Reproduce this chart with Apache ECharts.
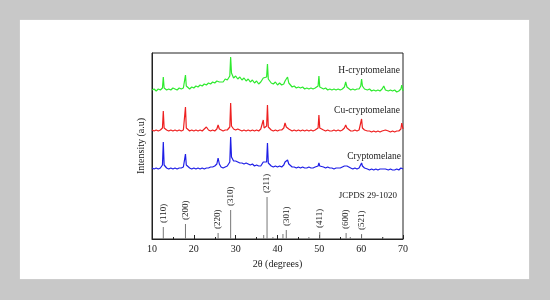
<!DOCTYPE html>
<html>
<head>
<meta charset="utf-8">
<script src="https://cdn.jsdelivr.net/npm/echarts@6/dist/echarts.min.js"></script>
<style>
  html, body { margin: 0; padding: 0; background: #c8c8c8; }
  #wrap { position: relative; width: 550px; height: 300px; background: #c8c8c8; }
  #panel { position: absolute; left: 20px; top: 20px; width: 509px; height: 259px; background: #fff; box-shadow: 0 0 1px #e4e4e4; }
  #chart { position: absolute; left: 0; top: 0; width: 550px; height: 300px; }
</style>
</head>
<body>
<div id="wrap">
  <div id="panel"></div>
  <div id="chart"></div>
</div>
<script>
// 2θ positions shared by the three measured patterns
const twoTheta = [
  10, 10.5, 11, 11.5, 12, 12.5, 12.7, 12.9, 13.5, 14,
  14.5, 15, 15.5, 16, 16.5, 17, 17.5, 17.8, 18.0, 18.2,
  18.5, 19, 19.5, 20, 20.5, 21, 21.5, 22, 22.5, 23,
  23.5, 24, 24.5, 25, 25.5, 25.8, 26.1, 26.5, 27, 27.5,
  28, 28.6, 28.8, 29.0, 29.5, 30, 30.5, 31, 31.5, 32,
  32.5, 33, 33.5, 34, 34.5, 35, 35.5, 36, 36.4, 36.6,
  36.8, 37.4, 37.6, 37.8, 38.5, 39, 39.5, 40, 40.5, 41,
  41.5, 41.8, 42.1, 42.4, 42.7, 43, 43.5, 44, 44.5, 45,
  45.5, 46, 46.5, 47, 47.5, 48, 48.5, 49, 49.7, 49.9,
  50.1, 51, 51.5, 52, 52.5, 53, 53.5, 54, 54.5, 55,
  55.5, 56, 56.3, 56.6, 57, 57.5, 58, 58.5, 59, 59.5,
  59.9, 60.1, 60.3, 60.8, 61.5, 62, 62.5, 63, 63.5, 64,
  64.5, 65, 65.4, 65.8, 66.5, 67, 67.5, 68, 68.5, 69,
  69.5, 69.7, 70
]

// intensities (arbitrary units, curves already offset)
const hCryptomelane = [
  149, 150, 148, 150, 149, 151, 162, 151, 149, 150,
  149, 151, 150, 149, 151, 150, 151, 152, 164, 153,
  151, 150, 152, 151, 153, 152, 154, 153, 155, 154,
  156, 155, 157, 156, 158, 159, 157, 159, 157, 160,
  159, 163, 182, 166, 161, 163, 160, 162, 159, 161,
  158, 160, 157, 159, 156, 158, 155, 157, 158, 161,
  159, 162, 175, 160, 156, 155, 157, 154, 156, 154,
  155, 158, 157, 162, 156, 154, 152, 153, 151, 152,
  151, 152, 150, 151, 150, 151, 150, 151, 153, 163,
  152, 150, 151, 149, 150, 149, 150, 149, 150, 149,
  150, 152, 157, 152, 150, 149, 150, 149, 150, 150,
  153, 160, 153, 150, 149, 150, 148, 149, 148, 149,
  148, 150, 153, 149, 148, 149, 148, 149, 147, 148,
  150, 154, 148
]

const cuCryptomelane = [
  109, 108, 109, 108, 109, 111, 128, 111, 109, 108,
  109, 108, 109, 108, 109, 108, 109, 111, 132, 111,
  109, 108, 109, 108, 109, 108, 109, 108, 110, 112,
  109, 108, 109, 108, 110, 114, 110, 109, 108, 109,
  109, 112, 136, 113, 110, 109, 110, 109, 108, 109,
  108, 109, 108, 109, 108, 109, 108, 110, 112, 119,
  111, 113, 134, 112, 109, 108, 109, 108, 109, 109,
  111, 116, 112, 114, 110, 109, 108, 109, 108, 109,
  108, 109, 108, 109, 108, 109, 108, 109, 111, 124,
  111, 109, 108, 109, 108, 108, 109, 108, 109, 108,
  109, 111, 114, 111, 109, 108, 108, 109, 108, 109,
  111, 120, 111, 109, 108, 108, 107, 108, 107, 108,
  107, 108, 110, 109, 108, 107, 108, 107, 108, 108,
  110, 116, 110
]

const cryptomelane = [
  71, 70, 71, 70, 71, 74, 97, 74, 71, 70,
  71, 70, 71, 70, 71, 71, 72, 74, 85, 74,
  72, 71, 70, 71, 70, 71, 70, 71, 70, 71,
  71, 72, 72, 73, 75, 81, 75, 72, 71, 72,
  73, 77, 102, 82, 78, 78, 77, 76, 76, 75,
  76, 75, 74, 75, 73, 74, 73, 73, 74, 77,
  75, 77, 96, 76, 73, 72, 73, 72, 73, 72,
  74, 77, 75, 79, 75, 73, 72, 72, 71, 72,
  71, 72, 71, 71, 72, 71, 71, 72, 73, 76,
  73, 72, 71, 72, 71, 71, 70, 71, 71, 71,
  72, 73, 73, 73, 72, 71, 70, 71, 70, 71,
  73, 76, 73, 71, 70, 69, 70, 69, 70, 69,
  70, 70, 71, 70, 69, 70, 69, 69, 70, 69,
  71, 72, 70
]

// JCPDS 29-1020 reference lines
const stickPos = [12.7, 18.0, 25.8, 28.8, 36.7, 37.5, 38.9, 41.3, 42.1, 47.5, 50.1, 56.4, 57.4, 60.1, 65.2]
const stickHeight = [12, 15, 6, 29, 4, 42, 2, 5, 9, 2, 7, 6, 2, 5, 2]
const stickLabel = ['(110)', '(200)', '(220)', '(310)', '', '(211)', '', '', '(301)', '', '(411)', '(600)', '', '(521)', '']

const seriesNames = ['H-cryptomelane', 'Cu-cryptomelane', 'Cryptomelane']
const seriesColors = ['#2eea2e', '#ee2020', '#1e1ee6']
const xTicks = { min: 10, max: 70, interval: 10 }

const font = 'Liberation Serif'
const chart = echarts.init(document.getElementById('chart'), null, { renderer: 'canvas' })

const curves = [hCryptomelane, cuCryptomelane, cryptomelane]

chart.setOption({
  animation: false,
  backgroundColor: 'transparent',
  textStyle: { fontFamily: font },
  grid: {
    left: 152,
    right: 147,
    top: 53,
    bottom: 61,
    show: true,
    borderColor: '#222',
    borderWidth: 1
  },
  xAxis: {
    type: 'value',
    min: xTicks.min,
    max: xTicks.max,
    interval: xTicks.interval,
    name: '2θ (degrees)',
    nameLocation: 'middle',
    nameGap: 14,
    nameTextStyle: { color: '#222', fontSize: 10, fontFamily: font },
    axisLine: { lineStyle: { color: '#222', width: 1 } },
    axisTick: { inside: true, length: 4, lineStyle: { color: '#222' } },
    minorTick: { show: true, splitNumber: 2, length: 2, lineStyle: { color: '#222' } },
    axisLabel: { color: '#222', fontSize: 10, margin: 5, fontFamily: font },
    splitLine: { show: false }
  },
  yAxis: {
    type: 'value',
    min: 0,
    max: 186,
    name: 'Intensity (a.u)',
    nameLocation: 'middle',
    nameGap: 6,
    nameTextStyle: { color: '#222', fontSize: 10, fontFamily: font },
    axisLine: { show: true, lineStyle: { color: '#222' } },
    axisTick: { show: false },
    axisLabel: { show: false },
    splitLine: { show: false }
  },
  graphic: [
    { type: 'text', right: 150, top: 65, style: { text: seriesNames[0], font: '9.5px "Liberation Serif"', fill: '#222' } },
    { type: 'text', right: 150, top: 105, style: { text: seriesNames[1], font: '9.5px "Liberation Serif"', fill: '#222' } },
    { type: 'text', right: 149, top: 151, style: { text: seriesNames[2], font: '9.5px "Liberation Serif"', fill: '#222' } },
    { type: 'text', right: 153, top: 191, style: { text: 'JCPDS 29-1020', font: '9px "Liberation Serif"', fill: '#222' } }
  ],
  series: [
    ...curves.map((vals, i) => ({
      name: seriesNames[i],
      type: 'line',
      data: twoTheta.map((t, k) => [t, vals[k]]),
      showSymbol: false,
      lineStyle: { color: seriesColors[i], width: 1.2 },
      z: 3 - i
    })),
    {
      name: 'JCPDS 29-1020',
      type: 'bar',
      barWidth: 1,
      itemStyle: { color: '#777' },
      data: stickPos.map((p, k) => ({
        value: [p, stickHeight[k]],
        label: {
          show: stickLabel[k] !== '',
          formatter: stickLabel[k],
          position: 'top',
          distance: 4,
          rotate: 90,
          align: 'left',
          verticalAlign: 'middle',
          fontSize: 9,
          fontFamily: font,
          color: '#222'
        }
      }))
    }
  ]
})
</script>
</body>
</html>
